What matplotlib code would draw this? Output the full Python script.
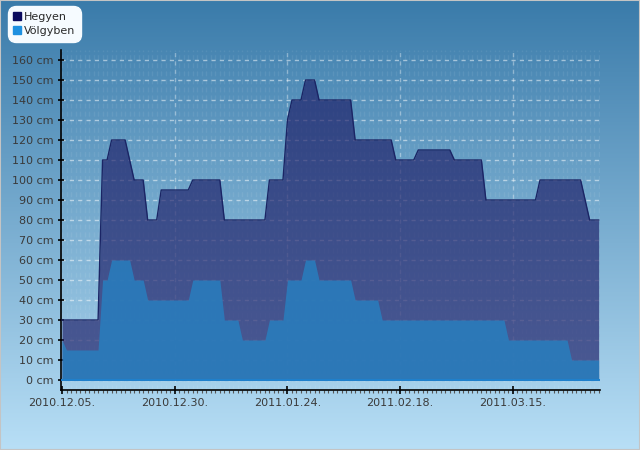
import numpy as np
import matplotlib
matplotlib.use("Agg")
import matplotlib.pyplot as plt
import matplotlib.dates as mdates
from matplotlib.lines import Line2D
from matplotlib.patches import Rectangle
import datetime as dt

# ---------------- data ----------------
start_date = "2010-12-05"
series_names = ["Hegyen", "Völgyben"]

hegyen_days = [0, 8, 9, 10, 11, 14, 16, 18, 19, 21, 22, 28, 29, 35, 36, 45, 46, 49, 50, 51,
               53, 54, 56, 57, 64, 65, 73, 74, 78, 79, 86, 87, 93, 94, 105, 106, 115, 117, 119]
hegyen_vals = [30, 30, 110, 110, 120, 120, 100, 100, 80, 80, 95, 95, 100, 100, 80, 80, 100, 100, 130, 140,
               140, 150, 150, 140, 140, 120, 120, 110, 110, 115, 115, 110, 110, 90, 90, 100, 100, 80, 80]

volgy_days = [0, 1, 8, 9, 10, 11, 15, 16, 18, 19, 28, 29, 35, 36, 39, 40, 45, 46, 49, 50,
              53, 54, 56, 57, 64, 65, 70, 71, 98, 99, 112, 113, 119]
volgy_vals = [20, 15, 15, 50, 50, 60, 60, 50, 50, 40, 40, 50, 50, 30, 30, 20, 20, 30, 30, 50,
              50, 60, 60, 50, 50, 40, 40, 30, 30, 20, 20, 10, 10]

y_ticks = list(range(0, 161, 10))
y_tick_labels = [f"{v} cm" for v in y_ticks]
x_tick_dates = ["2010-12-05", "2010-12-30", "2011-01-24", "2011-02-18", "2011-03-15"]

# ---------------- figure ----------------
W, H = 640, 450
fig = plt.figure(figsize=(W / 100, H / 100), dpi=100)

# background gradient
bg = fig.add_axes([0, 0, 1, 1], zorder=-10)
top = np.array([0x3a, 0x7b, 0xaa]) / 255
bot = np.array([0xb8, 0xdf, 0xf6]) / 255
t = np.linspace(0, 1, 256)[:, None]
grad = top[None, :] * (1 - t) + bot[None, :] * t
bg.imshow(grad[:, None, :], aspect="auto", extent=[0, 1, 0, 1])
bg.set_axis_off()
fig.patches.append(Rectangle((0, 0), 1, 1, transform=fig.transFigure, fill=False,
                             edgecolor="#c4c4c4", linewidth=1.5, zorder=10))

ax = fig.add_axes([61 / W, 60 / H, 539 / W, 340 / H])
ax.set_facecolor("none")

d0 = dt.datetime.strptime(start_date, "%Y-%m-%d")
def to_dates(days):
    return [mdates.date2num(d0 + dt.timedelta(days=int(d))) for d in days]

hx = to_dates(hegyen_days)
vx = to_dates(volgy_days)
x0 = mdates.date2num(d0)

ax.set_xlim(x0 - 0.22, x0 + 119.3)
ax.set_ylim(-5, 165)

# daily faint dashed minor grid
days_all = np.arange(0, 120)
for d in days_all:
    ax.axvline(x0 + d, color="white", alpha=0.07,
               linewidth=1.0, linestyle=(0, (3.6, 2.2)), zorder=0)

# horizontal dashed grid
for v in y_ticks:
    ax.axhline(v, color="white", alpha=0.5, linewidth=1.0, linestyle=(0, (3.0, 3.0)), zorder=1)
for s in x_tick_dates[1:]:
    ax.axvline(mdates.datestr2num(s), color="white", alpha=0.35, linewidth=1.0,
               linestyle=(0, (3.0, 3.0)), zorder=1)

# areas
ax.fill_between(hx, 0, hegyen_vals, color="#1c1c66", alpha=0.66, linewidth=0, zorder=2)
ax.plot(hx, hegyen_vals, color="#1b2565", linewidth=1.0, zorder=4)
ax.fill_between(vx, 0, volgy_vals, color="#297dbd", alpha=0.88, linewidth=0, zorder=3)
ax.plot([vx[0], vx[-1]], [0, 0], color="#1f80cc", linewidth=1.5, zorder=3)

# axes styling
for sp in ["top", "right"]:
    ax.spines[sp].set_visible(False)
ax.spines["left"].set_color("black")
ax.spines["bottom"].set_color("black")
ax.spines["left"].set_linewidth(1.2)
ax.spines["bottom"].set_linewidth(1.2)

ax.set_yticks(y_ticks)
ax.set_yticklabels(y_tick_labels)
ax.set_xticks([mdates.datestr2num(s) for s in x_tick_dates])
ax.set_xticklabels([dt.datetime.strptime(s, "%Y-%m-%d").strftime("%Y.%m.%d.") for s in x_tick_dates])
ax.set_xticks([x0 + d for d in days_all], minor=True)
ax.tick_params(axis="y", direction="inout", length=5, width=1.2, colors="black",
               labelcolor="#3a3a3a", labelsize=8, pad=3)
ax.tick_params(axis="x", which="major", direction="inout", length=6, width=1.2, colors="black",
               labelcolor="#3a3a3a", labelsize=8, pad=3)
ax.tick_params(axis="x", which="minor", direction="out", length=2, width=0.8, colors="#555555")

# legend
handles = [Line2D([], [], marker="s", linestyle="none", markersize=5.5, color="#0b0b5e"),
           Line2D([], [], marker="s", linestyle="none", markersize=5.5, color="#1e90e0")]
leg = fig.legend(handles, series_names, loc="upper left", bbox_to_anchor=(8 / W, 1 - 6 / H),
                 borderaxespad=0, fontsize=8, frameon=True, fancybox=True, handlelength=0.6,
                 handletextpad=0.25, labelspacing=0.35, borderpad=0.55, labelcolor="#2a2a2a")
leg.get_frame().set_facecolor("#f6fbff")
leg.get_frame().set_edgecolor("#f6fbff")
leg.get_frame().set_alpha(1)
leg.get_frame().set_boxstyle("round", pad=0, rounding_size=0.7)

fig.savefig("out.png", dpi=100)
